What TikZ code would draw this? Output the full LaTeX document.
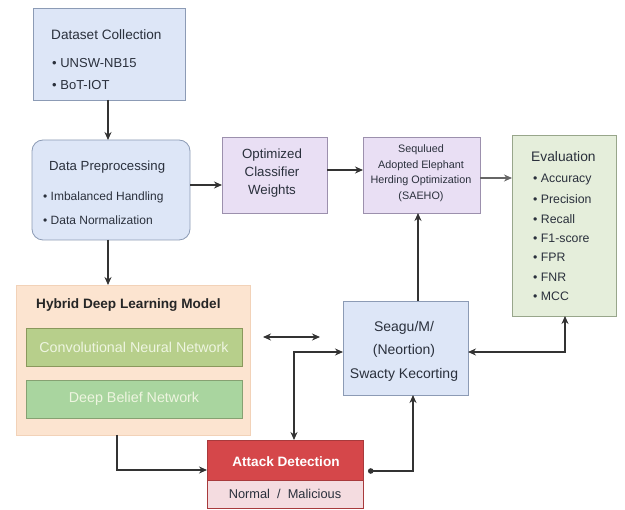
\documentclass[tikz,border=0pt]{standalone}
\usepackage{fontspec}
\setmainfont{Liberation Sans}
\usetikzlibrary{arrows.meta}
\definecolor{blueF}{HTML}{DDE6F7}
\definecolor{blueD}{HTML}{8C9BB5}
\definecolor{purF}{HTML}{E9DFF4}
\definecolor{purD}{HTML}{9C90AD}
\definecolor{grnF}{HTML}{E5EEDB}
\definecolor{grnD}{HTML}{98A68B}
\definecolor{peachF}{HTML}{FCE4D0}
\definecolor{peachD}{HTML}{F2D2B8}
\definecolor{cnnF}{HTML}{B7CF8B}
\definecolor{cnnD}{HTML}{8A985C}
\definecolor{dbnF}{HTML}{A9D59F}
\definecolor{dbnD}{HTML}{86A172}
\definecolor{paleT}{HTML}{EEF5E0}
\definecolor{atkF}{HTML}{D5474A}
\definecolor{atkD}{HTML}{A83A3C}
\definecolor{atkB}{HTML}{F4DCE0}
\definecolor{txt}{HTML}{2A303C}
\definecolor{ln}{HTML}{333333}
\begin{document}
\begin{tikzpicture}[x=1pt,y=-1pt,
  nbox/.style={draw=blueD, line width=0.8pt, fill=blueF, anchor=north west, inner sep=0, outer sep=0},
  pbox/.style={nbox, draw=purD, fill=purF},
  gbox/.style={nbox, draw=grnD, fill=grnF},
  lbl/.style={anchor=west, inner sep=0, text=txt},
  ctr/.style={inner sep=0, text=txt, align=center},
  arr/.style={draw=ln, line width=1.1pt, -{Stealth[length=8pt,width=7pt]}},
  darr/.style={draw=ln, line width=1.1pt, {Stealth[length=8pt,width=7pt]}-{Stealth[length=8pt,width=7pt]}},
  f13/.style={font=\fontsize{13.6}{16}\selectfont},
  f12/.style={font=\fontsize{12.3}{14}\selectfont}]
\useasboundingbox (0,0) rectangle (625,510);
\fill[white] (0,0) rectangle (625,510);

% Dataset collection
\node[nbox, minimum width=152, minimum height=92] (ds) at (33,8) {};
\node[lbl, f13] (dsT) at (51,35) {Dataset Collection};
\node[lbl, font=\fontsize{13}{15}\selectfont] (ds1) at (52,63) {\textbullet\ UNSW-NB15};
\node[lbl, font=\fontsize{13}{15}\selectfont] (ds2) at (52,85) {\textbullet\ BoT-IOT};

% Data preprocessing
\node[nbox, rounded corners=11pt, minimum width=158, minimum height=100] (pre) at (32,140) {};
\node[lbl, font=\fontsize{13.2}{15}\selectfont] (preT) at (49,167) {Data Preprocessing};
\node[lbl, font=\fontsize{12}{14}\selectfont] (pre1) at (43,197) {\textbullet\ Imbalanced Handling};
\node[lbl, font=\fontsize{12}{14}\selectfont] (pre2) at (43,220) {\textbullet\ Data Normalization};

% Optimized classifier weights
\node[pbox, minimum width=105, minimum height=76] (opt) at (222,137) {};
\node[ctr, font=\fontsize{13.3}{18}\selectfont] (optT) at (272,173) {Optimized\\Classifier\\Weights};

% SAEHO
\node[pbox, minimum width=117, minimum height=76] (sae) at (363,137) {};
\node[ctr, font=\fontsize{10.8}{15.5}\selectfont] (saeT) at (421,173) {Sequlued\\Adopted Elephant\\Herding Optimization\\(SAEHO)};

% Evaluation
\node[gbox, minimum width=104, minimum height=181] (ev) at (512,135) {};
\node[lbl, font=\fontsize{13.8}{16}\selectfont] (evT) at (531,157) {Evaluation};
\foreach \t [count=\i from 0] in {Accuracy,Precision,Recall,F1-score,FPR,FNR,MCC}{
  \node[lbl, f12] (ev\i) at (533,{180+19.4*\i}) {\textbullet\ \t};
}

% Hybrid deep learning model
\node[nbox, draw=peachD, fill=peachF, minimum width=234, minimum height=150] (hy) at (16,285) {};
\node[lbl, font=\bfseries\fontsize{13.6}{16}\selectfont, text=black!85] (hyT) at (36,305) {Hybrid Deep Learning Model};
\node[nbox, draw=cnnD, fill=cnnF, minimum width=216, minimum height=38] (cnn) at (26,328) {};
\node[ctr, text=paleT, font=\fontsize{14.3}{16}\selectfont] (cnnT) at (cnn.center) {Convolutional Neural Network};
\node[nbox, draw=dbnD, fill=dbnF, minimum width=216, minimum height=38] (dbn) at (26,380) {};
\node[ctr, text=paleT, font=\fontsize{14.3}{16}\selectfont] (dbnT) at (dbn.center) {Deep Belief Network};

% Seagu box
\node[nbox, minimum width=125, minimum height=94] (sg) at (343,301) {};
\node[ctr, font=\fontsize{14}{23.5}\selectfont] (sgT) at (404,351) {Seagu/M/\\(Neortion)\\Swacty Kecorting};

% Attack detection
\node[nbox, draw=atkD, fill=atkF, minimum width=156, minimum height=40] (atk) at (207,440) {};
\node[ctr, text=white, font=\bfseries\fontsize{13.6}{16}\selectfont] (atkT) at (286,462) {Attack Detection};
\node[nbox, draw=atkD, fill=atkB, minimum width=156, minimum height=28] (atkb) at (207,480) {};
\node[ctr, font=\fontsize{12.8}{15}\selectfont] (atkbT) at (atkb.center) {Normal \;/\; Malicious};

% helper coordinates
\coordinate (cx) at (108,0);
\coordinate (r1) at (0,185);
\coordinate (r2) at (0,170);
\coordinate (r3) at (0,178);
\coordinate (c4) at (418,0);
\coordinate (k1) at (294,352);
\coordinate (k2) at (413,471);
\coordinate (k3) at (117,470);
\coordinate (k4) at (565,352);
\coordinate (fa) at (263,337);
\coordinate (fb) at (320,337);

% connectors
\draw[arr] (cx |- ds.south) -- (cx |- pre.north);
\draw[arr] (cx |- pre.south) -- (cx |- hy.north);
\draw[arr] (pre.east |- r1) -- (opt.west |- r1);
\draw[arr] (opt.east |- r2) -- (sae.west |- r2);
\draw[arr, draw=ln!75] (sae.east |- r3) -- (ev.west |- r3);
\draw[arr] (c4 |- sg.north) -- (c4 |- sae.south);
\draw[arr] (k3 |- hy.south) |- (atk.west |- k3);
\draw[darr] (fa) -- (fb);
\draw[darr] (k1 |- atk.north) |- (sg.west |- k1);
\draw[draw=ln, line width=1.1pt, {Circle[length=5.5pt]}-{Stealth[length=8pt,width=7pt]}, shorten <=5pt] (atk.east |- k2) -| (sg.south -| k2);
\draw[darr] (sg.east |- k4) -| (ev.south -| k4);
\end{tikzpicture}
\end{document}
